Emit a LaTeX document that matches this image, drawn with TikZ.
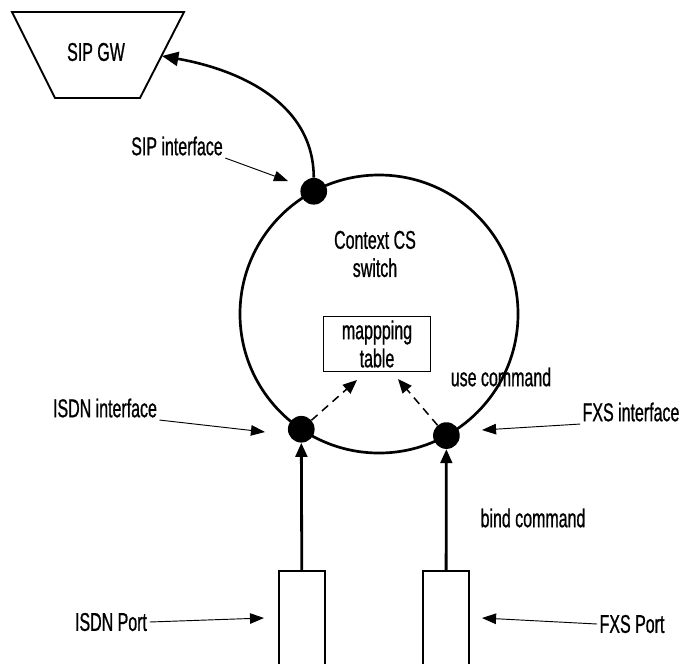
\documentclass[tikz,border=0pt]{standalone}
\usepackage{fontspec}
\setmainfont{Liberation Sans}[FakeStretch=0.62,FakeBold=0.8]
\usetikzlibrary{arrows.meta}

\begin{document}
\begin{tikzpicture}[x=0.03cm,y=-0.03cm,>=Triangle,
 font=\fontsize{22}{24}\selectfont,
 ctx/.style={draw,circle,line width=2.3pt,minimum size=8.34cm,
 inner sep=0pt,outer sep=0pt},
 dot/.style={circle,fill=black,inner sep=0pt,minimum size=0.8cm},
 mapbox/.style={draw,line width=1.2pt,align=center,
 minimum width=3.21cm,minimum height=1.62cm},
 port/.style={draw,line width=2pt,minimum width=1.38cm,minimum height=3.3cm},
 lbl/.style={inner sep=2pt,align=center},
 pointer/.style={->,line width=0.8pt,>={Triangle[length=12pt,width=9pt]}},
 bind/.style={->,line width=2.4pt,>={Triangle[length=12pt,width=10pt]}},
 use/.style={->,line width=1.3pt,dash pattern=on 7pt off 5pt,
 >={Triangle[length=12pt,width=10pt]}}]
\useasboundingbox (0,0) rectangle (681,663);

% gateway and context
\draw[line width=1.6pt] (12,12) -- (184,12) -- (140,98) -- (55,98) -- cycle;
\node[lbl] (gw) at (96,52) {SIP GW};
\coordinate (gwedge) at (162,56);
\node[ctx] (cs) at (379,314) {};
\node[lbl] (cslbl) at (375,254) {Context CS\\switch};
\node[mapbox] (map) at (377,344) {mappping\\table};

% interfaces on the context
\node[dot] (sipif) at (cs.118) {};
\node[dot] (isdnif) at (cs.236) {};
\node[dot] (fxsif) at (cs.299) {};

% ports
\node[port] (isdnport) at (302,626) {};
\node[port] (fxsport) at (446,626) {};

% labels
\node[lbl] (siplbl) at (177,146) {SIP interface};
\node[lbl] (isdnlbl) at (105,408) {ISDN interface};
\node[lbl] (fxslbl) at (631,412) {FXS interface};
\node[lbl] (isdnportlbl) at (111,622) {ISDN Port};
\node[lbl] (fxsportlbl) at (632,624) {FXS Port};
\node[lbl] (uselbl) at (501,377) {use command};
\node[lbl] (bindlbl) at (533,518) {bind command};

\coordinate (siptip) at (288,181);
\coordinate (isdntip) at (265,432);
\coordinate (fxstip) at (482,430);
\coordinate (isdnporttip) at (264,618);
\coordinate (fxsporttip) at (482,618);
\coordinate (usetipa) at (357,380);
\coordinate (usetipb) at (398,379);

% connectors
\draw[->,line width=2.2pt,>={Triangle[length=14pt,width=12pt]}]
 (sipif) to[out=90,in=-10] (gwedge);
\draw[bind] (isdnport) -- (isdnif);
\draw[bind] (fxsport) -- (fxsif);
\draw[use] (isdnif) -- (usetipa);
\draw[use] (fxsif) -- (usetipb);

\draw[pointer] (siplbl.south east) -- (siptip);
\draw[pointer] (isdnlbl.south east) -- (isdntip);
\draw[pointer] (fxslbl.south west) -- (fxstip);
\draw[pointer] (isdnportlbl.east) -- (isdnporttip);
\draw[pointer] (fxsportlbl.west) -- (fxsporttip);
\end{tikzpicture}
\end{document}
